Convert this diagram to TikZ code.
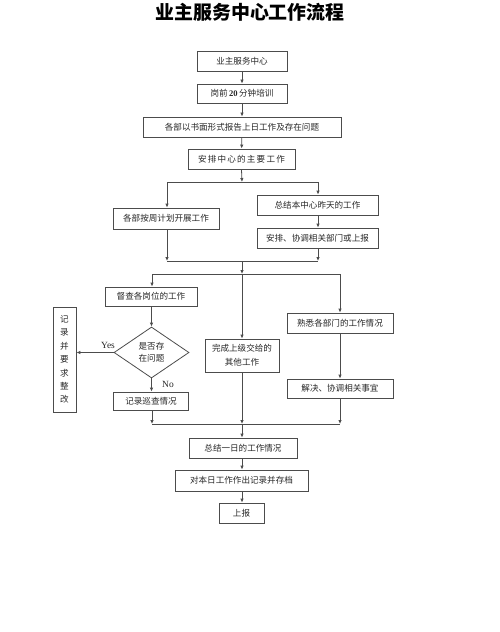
\documentclass[tikz,border=0pt]{standalone}
\usepackage{fontspec}
\setmainfont{Noto Sans CJK SC}
\newfontfamily\latinserif{Liberation Serif}
\usetikzlibrary{arrows.meta,shapes.geometric}
\begin{document}
\begin{tikzpicture}[x=1bp,y=-1bp,
  box/.style={draw=black!70,line width=0.8bp,inner sep=0pt,align=center,text=black!85,
    font=\fontsize{8.6}{12}\selectfont},
  conn/.style={draw=black!70,line width=0.8bp},
  arr/.style={conn,-{Latex[length=4bp,width=3.5bp]}},
  lbl/.style={font=\fontsize{9.5}{10}\selectfont\latinserif,text=black!85,inner sep=0pt}]
\useasboundingbox (0,0) rectangle (500,632);
\node[font=\fontsize{19}{22}\selectfont\bfseries] (title) at (250,12) {业主服务中心工作流程};
\node[box,minimum width=90bp,minimum height=20bp] (b1) at (242,61) {业主服务中心};
\node[box,minimum width=90bp,minimum height=19bp] (b2) at (242,93.5) {岗前{\latinserif\bfseries\,20\,}分钟培训};
\node[box,minimum width=198bp,minimum height=20bp] (b3) at (242,127) {各部以书面形式报告上日工作及存在问题};
\node[box,minimum width=107bp,minimum height=20bp] (b4) at (241.5,159) {\addfontfeature{LetterSpace=14}安排中心的主要工作};
\node[box,minimum width=106bp,minimum height=21bp] (l1) at (166,218.5) {各部按周计划开展工作};
\node[box,minimum width=121bp,minimum height=20bp] (r1) at (317.5,205) {总结本中心昨天的工作};
\node[box,minimum width=121bp,minimum height=20bp] (r2) at (317.5,238) {安排、协调相关部门或上报};
\node[box,minimum width=92bp,minimum height=19bp] (d1) at (151,296.5) {督查各岗位的工作};
\node[box,diamond,aspect=1.47,minimum width=75bp,minimum height=51bp,inner sep=0pt] (dia) at (151.5,352.5) {是否存\\在问题};
\node[box,minimum width=23bp,minimum height=105bp,font=\fontsize{8.6}{13.5}\selectfont] (v1) at (64.5,359.5) {记\\录\\并\\要\\求\\整\\改};
\node[box,minimum width=75bp,minimum height=18bp] (d2) at (151,401) {记录巡查情况};
\node[box,minimum width=74bp,minimum height=33bp,font=\fontsize{8.6}{14}\selectfont] (m1) at (242,355.5) {完成上级交给的\\其他工作};
\node[box,minimum width=106bp,minimum height=20bp] (s1) at (340,323) {熟悉各部门的工作情况};
\node[box,minimum width=106bp,minimum height=19bp] (s2) at (340,388.5) {解决、协调相关事宜};
\node[box,minimum width=108bp,minimum height=20bp] (e1) at (243,448) {总结一日的工作情况};
\node[box,minimum width=133bp,minimum height=21bp] (e2) at (241.5,480.5) {对本日工作作出记录并存档};
\node[box,minimum width=45bp,minimum height=20bp] (e3) at (241.5,513) {上报};
\node[lbl] (yes) at (108,345) {Yes};
\node[lbl] (no) at (168,384.5) {No};
% junction coordinates
\coordinate (j1) at (242,182);
\coordinate (j1l) at (167,182);
\coordinate (j1r) at (318,182);
\coordinate (j2) at (242,261);
\coordinate (j2l) at (167,261);
\coordinate (j2r) at (318,261);
\coordinate (j3) at (242,274);
\coordinate (j3l) at (152,274);
\coordinate (j3r) at (340,274);
\coordinate (j4) at (242,424);
\coordinate (j4l) at (152,424);
\coordinate (j4r) at (340,424);
% connectors
\draw[arr] (b1) -- (b2);
\draw[arr] (b2) -- (b3);
\draw[arr] (b3) -- (b4);
\draw[arr] (b4.south) -- (j1);
\draw[conn] (j1l) -- (j1r);
\draw[arr] (j1l) -- (l1.north -| j1l);
\draw[arr] (j1r) -- (r1.north -| j1r);
\draw[arr] (r1.south -| j1r) -- (r2.north -| j1r);
\draw[arr] (l1.south -| j2l) -- (j2l);
\draw[arr] (r2.south -| j2r) -- (j2r);
\draw[conn] (j2l) -- (j2r);
\draw[arr] (j2) -- (j3);
\draw[conn] (j3l) -- (j3r);
\draw[arr] (j3l) -- (d1.north -| j3l);
\draw[arr] (j3) -- (m1.north);
\draw[arr] (j3r) -- (s1.north -| j3r);
\draw[arr] (d1.south -| dia.north) -- (dia.north);
\draw[arr] (dia.west) -- (v1.east |- dia.west);
\draw[arr] (dia.south) -- (d2.north -| dia.south);
\draw[arr] (s1.south -| j3r) -- (s2.north -| j3r);
\draw[arr] (d2.south -| j4l) -- (j4l);
\draw[arr] (m1.south) -- (j4);
\draw[arr] (s2.south -| j4r) -- (j4r);
\draw[conn] (j4l) -- (j4r);
\draw[arr] (j4) -- (e1.north -| j4);
\draw[arr] (e1.south -| j4) -- (e2.north -| j4);
\draw[arr] (e2.south -| j4) -- (e3.north -| j4);
\end{tikzpicture}
\end{document}
